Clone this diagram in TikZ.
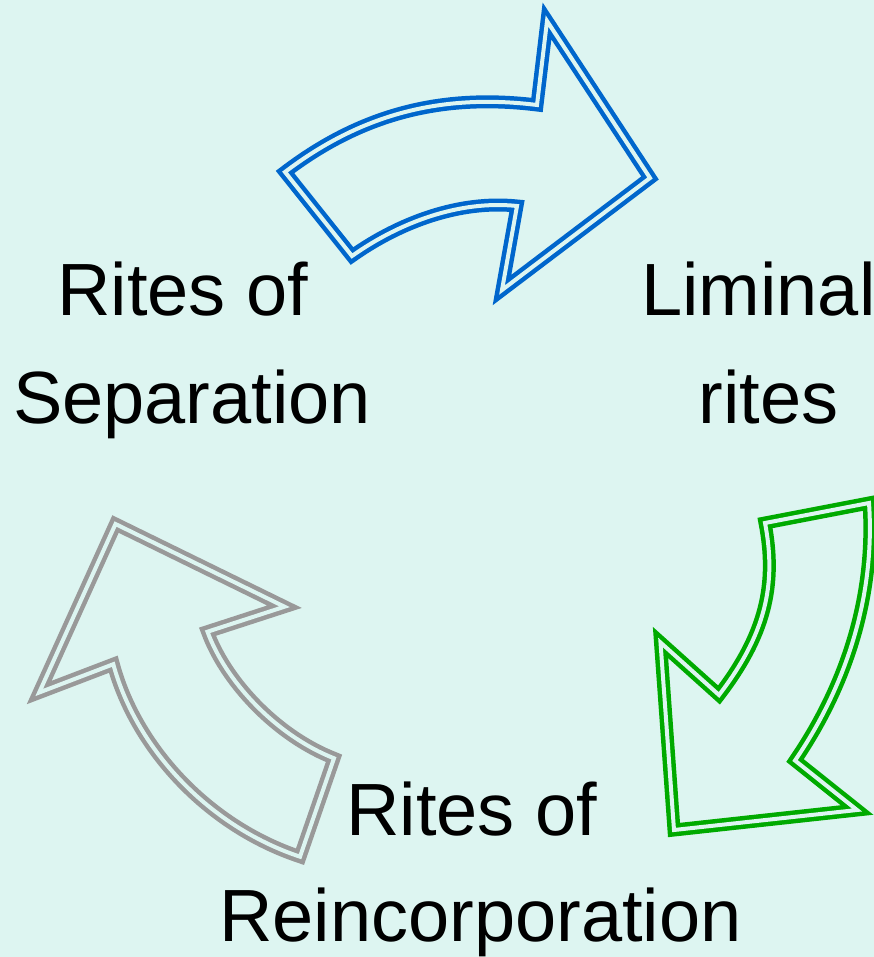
\documentclass[tikz,border=0pt]{standalone}
\usepackage{fontspec}
\setmainfont{Liberation Sans}
\begin{document}
\definecolor{paper}{RGB}{221,245,241}
\definecolor{blueline}{RGB}{0,102,204}
\definecolor{greenline}{RGB}{0,170,0}
\definecolor{grayline}{RGB}{153,153,153}
\begin{tikzpicture}[x=1pt,y=-1pt,
  hollow/.style={preaction={draw=#1, line width=13pt, line join=miter, miter limit=20},
                 draw=paper, line width=4pt, line join=miter, miter limit=20},
  lbl/.style={inner sep=0pt, anchor=base west, font=\fontsize{74}{80}\selectfont}]
  % canvas
  \fill[paper] (0,0) rectangle (874,957);
  \useasboundingbox (0,0) rectangle (874,957);

  % blue arrow: separation -> liminal
  \draw[hollow=blueline]
    (285,172) -- (352,256)
    .. controls (400,222) and (460,200) .. (517,206)
    -- (502,290) -- (650,178) -- (547,21) -- (537,105)
    .. controls (440,93) and (360,115) .. cycle;

  % green arrow: liminal -> reincorporation
  \draw[hollow=greenline]
    (765,523) -- (869,503)
    .. controls (875,590) and (850,680) .. (795,760.5)
    -- (857,810) -- (674,830) -- (660.5,642.5) -- (719,695)
    .. controls (765,635) and (777,585) .. cycle;

  % gray arrow: reincorporation -> separation
  \draw[hollow=grayline]
    (115.5,524) -- (284.5,606.7) -- (207.5,631.7)
    .. controls (225,680) and (275,735) .. (334,758.3)
    -- (300,856.7)
    .. controls (205,825) and (135,745) .. (113.3,664.2)
    -- (39.2,692.5) -- cycle;

  % labels
  \node[lbl] (sepA) at (57,315) {Rites of};
  \node[lbl] (sepB) at (13,423) {Separation};
  \node[lbl] (limA) at (641,315) {Liminal};
  \node[lbl] (limB) at (698.5,423) {rites};
  \node[lbl] (reiA) at (346,835) {Rites of};
  \node[lbl] (reiB) at (219,941) {Reincorporation};
\end{tikzpicture}
\end{document}
